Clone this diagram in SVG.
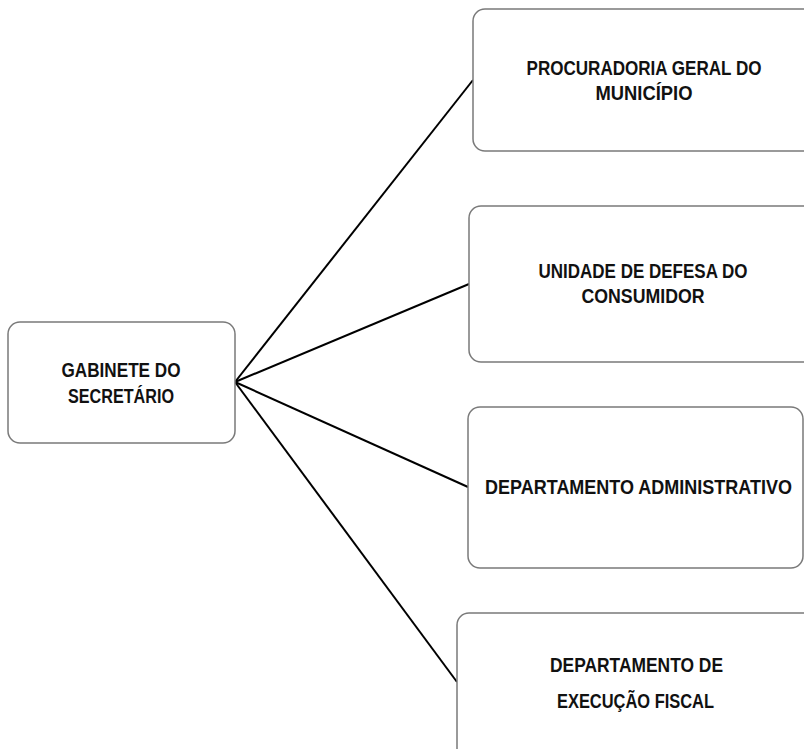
<svg xmlns="http://www.w3.org/2000/svg" width="804" height="749" viewBox="0 0 804 749">
  <style>
    .box { fill: #ffffff; stroke: #7a7a7a; stroke-width: 1.5; }
    .lbl { font-family: "Liberation Sans", Arial, sans-serif; font-weight: bold; font-size: 20px; fill: #111111; text-anchor: middle; }
    .link { stroke: #000000; stroke-width: 2; fill: none; }
  </style>
  <rect width="804" height="749" fill="#ffffff"/>

  <g id="connectors">
    <line class="link" x1="235" y1="382" x2="473" y2="80"/>
    <line class="link" x1="235" y1="382" x2="469" y2="284"/>
    <line class="link" x1="235" y1="382" x2="468" y2="487"/>
    <line class="link" x1="235" y1="382" x2="457" y2="682"/>
  </g>

  <g id="gabinete">
    <rect class="box" x="8" y="322" width="227" height="121" rx="12"/>
    <text class="lbl" x="121" y="377" textLength="119" lengthAdjust="spacingAndGlyphs">GABINETE DO</text>
    <text class="lbl" x="121" y="403" textLength="106" lengthAdjust="spacingAndGlyphs">SECRETÁRIO</text>
  </g>

  <g id="procuradoria">
    <rect class="box" x="473" y="9" width="345" height="142" rx="12"/>
    <text class="lbl" x="644" y="75" textLength="235" lengthAdjust="spacingAndGlyphs">PROCURADORIA GERAL DO</text>
    <text class="lbl" x="644" y="100" textLength="97" lengthAdjust="spacingAndGlyphs">MUNICÍPIO</text>
  </g>

  <g id="defesa-consumidor">
    <rect class="box" x="469" y="206" width="349" height="156" rx="12"/>
    <text class="lbl" x="643" y="278" textLength="209" lengthAdjust="spacingAndGlyphs">UNIDADE DE DEFESA DO</text>
    <text class="lbl" x="643" y="303" textLength="123" lengthAdjust="spacingAndGlyphs">CONSUMIDOR</text>
  </g>

  <g id="administrativo">
    <rect class="box" x="468" y="407" width="335" height="161" rx="12"/>
    <!-- long single line: narrowed horizontally so it stays inside the box -->
    <text class="lbl" transform="translate(638.5 494) scale(0.9 1)">DEPARTAMENTO ADMINISTRATIVO</text>
  </g>

  <g id="execucao-fiscal">
    <rect class="box" x="457" y="613" width="360" height="160" rx="12"/>
    <text class="lbl" x="636.5" y="672" textLength="173" lengthAdjust="spacingAndGlyphs">DEPARTAMENTO DE</text>
    <text class="lbl" x="635.5" y="708" textLength="157" lengthAdjust="spacingAndGlyphs">EXECUÇÃO FISCAL</text>
  </g>
</svg>
